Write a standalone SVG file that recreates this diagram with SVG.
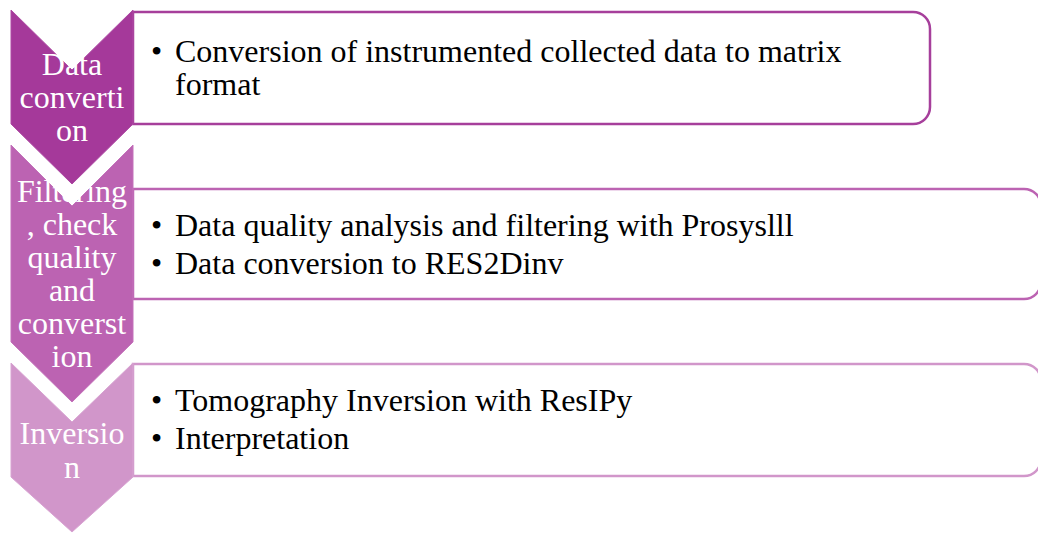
<svg xmlns="http://www.w3.org/2000/svg" width="1038" height="533" viewBox="0 0 1038 533">
<style>
.ct{font-family:"Liberation Serif","Times New Roman",serif;font-size:32px;fill:#ffffff;text-anchor:middle}
.bt{font-family:"Liberation Serif","Times New Roman",serif;font-size:32px;fill:#000000}
.box{fill:#ffffff;stroke-width:2.5}
</style>
<rect width="1038" height="533" fill="#ffffff"/>
<g id="connectors"></g>
<g id="box1">
<path class="box" d="M133,12 H913 A17,17 0 0 1 930,29 V107 A17,17 0 0 1 913,124 H133 Z" stroke="#A63F9B"/>
<text class="bt" x="151" y="62">•</text>
<text class="bt" x="175" y="62">Conversion of instrumented collected data to matrix</text>
<text class="bt" x="175" y="95">format</text>
</g>
<g id="box2">
<path class="box" d="M133,189 H1024 A17,17 0 0 1 1041,206 V282 A17,17 0 0 1 1024,299 H133 Z" stroke="#BC63B2"/>
<text class="bt" x="151" y="236">•</text>
<text class="bt" x="175" y="236">Data quality analysis and filtering with Prosyslll</text>
<text class="bt" x="151" y="274">•</text>
<text class="bt" x="175" y="274">Data conversion to RES2Dinv</text>
</g>
<g id="box3">
<path class="box" d="M133,364 H1024 A17,17 0 0 1 1041,381 V459 A17,17 0 0 1 1024,476 H133 Z" stroke="#D196CA"/>
<text class="bt" x="151" y="411">•</text>
<text class="bt" x="175" y="411">Tomography Inversion with ResIPy</text>
<text class="bt" x="151" y="449">•</text>
<text class="bt" x="175" y="449">Interpretation</text>
</g>
<g id="chevron1">
<polygon points="11,10 72,70 133,10 133,124 72,184 11,124" fill="#A5399A" stroke="#AE4BA4" stroke-width="1"/>
<text class="ct" x="72" y="75">Data</text>
<text class="ct" x="72" y="108">converti</text>
<text class="ct" x="72" y="141">on</text>
</g>
<g id="chevron2">
<polygon points="11,145 72,206 133,145 133,342 72,402 11,342" fill="#BC63B2" stroke="#C473BB" stroke-width="1"/>
<text class="ct" x="72" y="202">Filtering</text>
<text class="ct" x="72" y="235">, check</text>
<text class="ct" x="72" y="268">quality</text>
<text class="ct" x="72" y="301">and</text>
<text class="ct" x="72" y="334">converst</text>
<text class="ct" x="72" y="367">ion</text>
</g>
<g id="chevron3">
<polygon points="11,363 72,422 133,363 133,477 72,532 11,477" fill="#D196CA" stroke="#D8A4D2" stroke-width="1"/>
<text class="ct" x="72" y="444">Inversio</text>
<text class="ct" x="72" y="478">n</text>
</g>
</svg>
